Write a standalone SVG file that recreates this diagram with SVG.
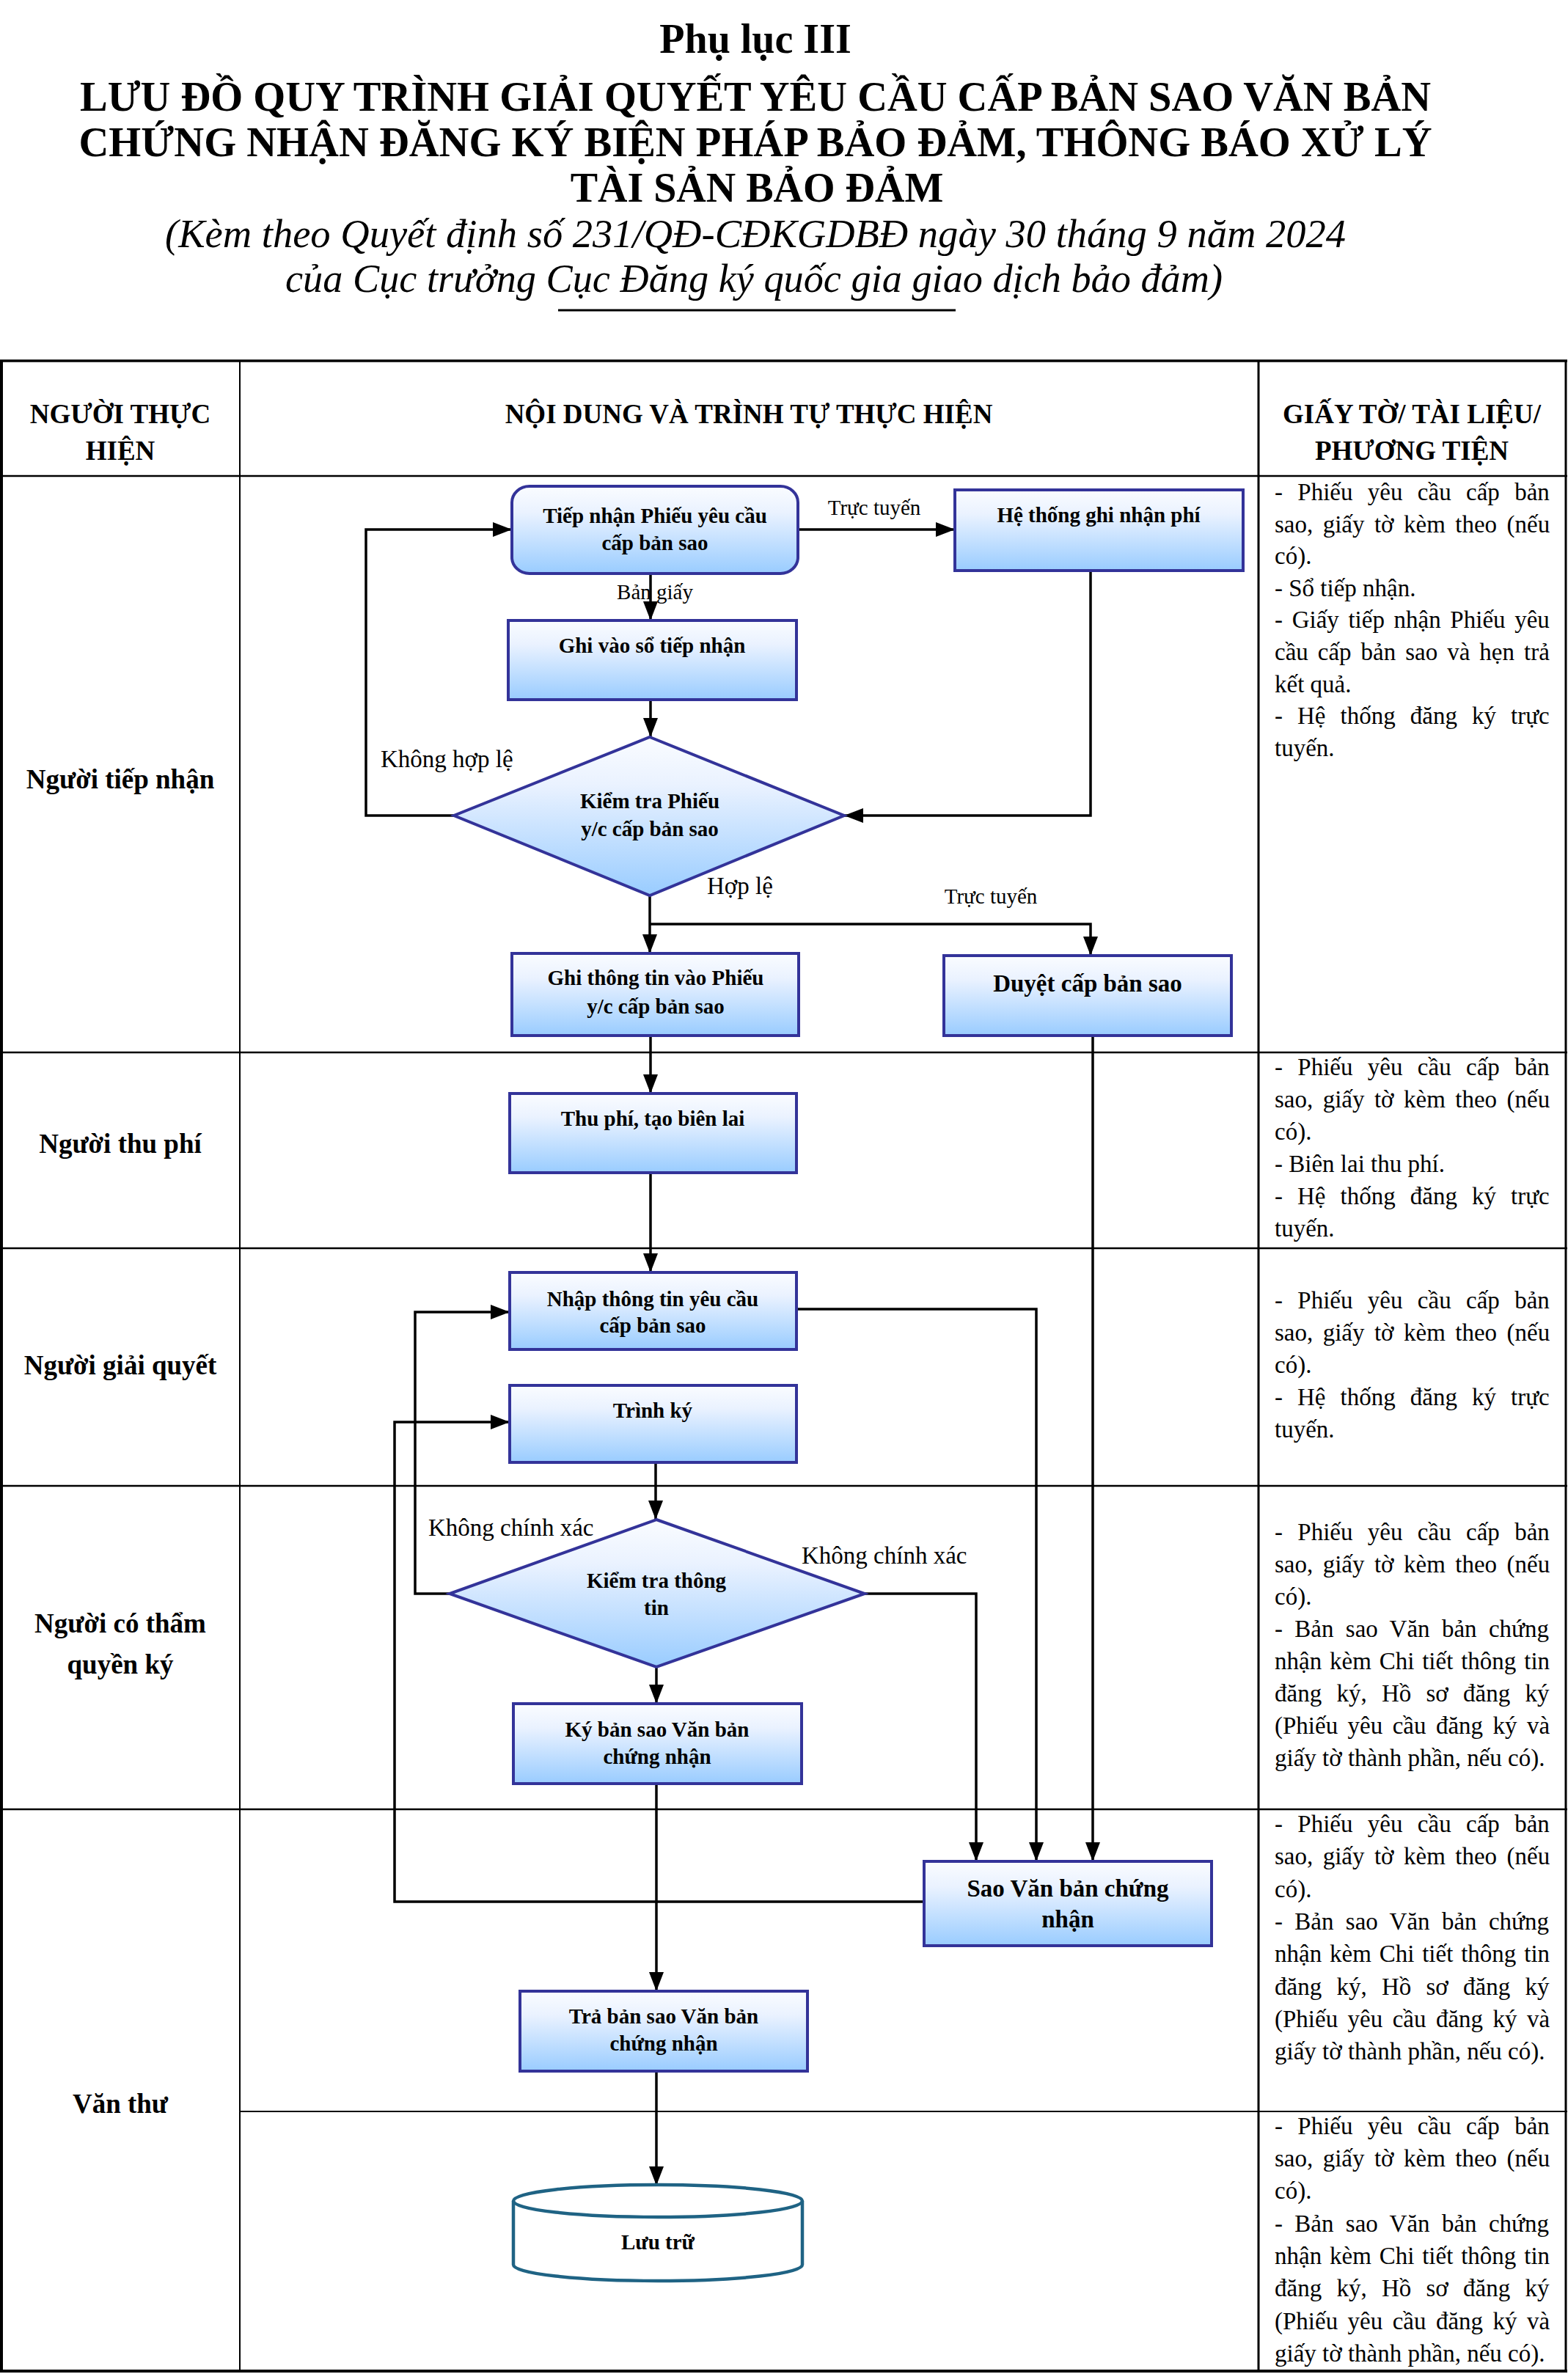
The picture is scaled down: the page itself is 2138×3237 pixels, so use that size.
<svg xmlns="http://www.w3.org/2000/svg" width="2138" height="3237" viewBox="0 0 2138 3237">
<style>
text{font-family:"Liberation Serif","Times New Roman",serif;fill:#000}
.t{font-size:56px;font-weight:bold;text-anchor:middle}
.s{font-size:55px;font-style:italic;text-anchor:middle}
.h{font-size:37px;font-weight:bold;text-anchor:middle}
.ln{font-size:37px;font-weight:bold;text-anchor:middle}
.nt{font-size:29px;font-weight:bold;text-anchor:middle}
.nt2{font-size:33px;font-weight:bold;text-anchor:middle}
.lb{font-size:33px}
.ls{font-size:29px}
.rc{font-size:33px}
.node{fill:url(#gr);stroke:#333399;stroke-width:4}
.conn{fill:none;stroke:#000;stroke-width:3.5;marker-end:url(#ar)}
.seg{fill:none;stroke:#000;stroke-width:3.5}
.g{stroke:#000;fill:none}
</style>
<defs>
<linearGradient id="gr" x1="0" y1="0" x2="0" y2="1">
<stop offset="0" stop-color="#fafcff"/>
<stop offset="0.3" stop-color="#eaf2ff"/>
<stop offset="1" stop-color="#99ccff"/>
</linearGradient>
<marker id="ar" markerUnits="userSpaceOnUse" markerWidth="26" markerHeight="20" refX="26" refY="10" orient="auto">
<path d="M0,0 L26,10 L0,20 Z" fill="#000"/>
</marker>
</defs>
<rect width="2138" height="3237" fill="#fff"/>

<g id="title">
<text class="t" x="1030" y="72">Phụ lục III</text>
<text class="t" x="1030" y="151" textLength="1842" lengthAdjust="spacingAndGlyphs">LƯU ĐỒ QUY TRÌNH GIẢI QUYẾT YÊU CẦU CẤP BẢN SAO VĂN BẢN</text>
<text class="t" x="1030" y="213" textLength="1845" lengthAdjust="spacingAndGlyphs">CHỨNG NHẬN ĐĂNG KÝ BIỆN PHÁP BẢO ĐẢM, THÔNG BÁO XỬ LÝ</text>
<text class="t" x="1032" y="275">TÀI SẢN BẢO ĐẢM</text>
<text class="s" x="1030" y="337" textLength="1610" lengthAdjust="spacingAndGlyphs">(Kèm theo Quyết định số 231/QĐ-CĐKGDBĐ ngày 30 tháng 9 năm 2024</text>
<text class="s" x="1028" y="398" textLength="1278" lengthAdjust="spacingAndGlyphs">của Cục trưởng Cục Đăng ký quốc gia giao dịch bảo đảm)</text>
<line x1="761" y1="423" x2="1303" y2="423" stroke="#000" stroke-width="3"/>
</g>

<g id="table">
<line class="g" x1="0" y1="492" x2="2137" y2="492" stroke-width="3.5"/>
<line class="g" x1="0" y1="649" x2="2137" y2="649" stroke-width="2.5"/>
<line class="g" x1="0" y1="1435" x2="2137" y2="1435" stroke-width="2.5"/>
<line class="g" x1="0" y1="1702" x2="2137" y2="1702" stroke-width="2.5"/>
<line class="g" x1="0" y1="2026" x2="2137" y2="2026" stroke-width="2.5"/>
<line class="g" x1="0" y1="2467" x2="2137" y2="2467" stroke-width="2.5"/>
<line class="g" x1="327" y1="2879" x2="2137" y2="2879" stroke-width="2"/>
<line class="g" x1="0" y1="3233" x2="2137" y2="3233" stroke-width="4"/>
<line class="g" x1="2" y1="491" x2="2" y2="3235" stroke-width="4"/>
<line class="g" x1="327" y1="491" x2="327" y2="3235" stroke-width="2"/>
<line class="g" x1="1716" y1="491" x2="1716" y2="3235" stroke-width="3"/>
<line class="g" x1="2135" y1="491" x2="2135" y2="3235" stroke-width="3"/>
<text class="h" x="164" y="577">NGƯỜI THỰC</text>
<text class="h" x="164" y="627">HIỆN</text>
<text class="h" x="1021" y="577">NỘI DUNG VÀ TRÌNH TỰ THỰC HIỆN</text>
<text class="h" x="1925" y="577">GIẤY TỜ/ TÀI LIỆU/</text>
<text class="h" x="1925" y="627">PHƯƠNG TIỆN</text>
</g>

<g id="lanes">
<text class="ln" x="164" y="1075">Người tiếp nhận</text>
<text class="ln" x="164" y="1572">Người thu phí</text>
<text class="ln" x="164" y="1874">Người giải quyết</text>
<text class="ln" x="164" y="2226">Người có thẩm</text>
<text class="ln" x="164" y="2282">quyền ký</text>
<text class="ln" x="164" y="2881">Văn thư</text>
</g>

<g id="documents" class="rc">
<text class="rc" x="1738" y="682" style="word-spacing:12.1px">- Phiếu yêu cầu cấp bản</text>
<text class="rc" x="1738" y="726" style="word-spacing:5.2px">sao, giấy tờ kèm theo (nếu</text>
<text class="rc" x="1738" y="769">có).</text>
<text class="rc" x="1738" y="813">- Sổ tiếp nhận.</text>
<text class="rc" x="1738" y="856" style="word-spacing:4.4px">- Giấy tiếp nhận Phiếu yêu</text>
<text class="rc" x="1738" y="900" style="word-spacing:4.75px">cầu cấp bản sao và hẹn trả</text>
<text class="rc" x="1738" y="944">kết quả.</text>
<text class="rc" x="1738" y="987" style="word-spacing:11.8px">- Hệ thống đăng ký trực</text>
<text class="rc" x="1738" y="1031">tuyến.</text>

<text class="rc" x="1738" y="1466" style="word-spacing:12.1px">- Phiếu yêu cầu cấp bản</text>
<text class="rc" x="1738" y="1510" style="word-spacing:5.2px">sao, giấy tờ kèm theo (nếu</text>
<text class="rc" x="1738" y="1554">có).</text>
<text class="rc" x="1738" y="1598">- Biên lai thu phí.</text>
<text class="rc" x="1738" y="1642" style="word-spacing:11.8px">- Hệ thống đăng ký trực</text>
<text class="rc" x="1738" y="1686">tuyến.</text>

<text class="rc" x="1738" y="1784" style="word-spacing:12.1px">- Phiếu yêu cầu cấp bản</text>
<text class="rc" x="1738" y="1828" style="word-spacing:5.2px">sao, giấy tờ kèm theo (nếu</text>
<text class="rc" x="1738" y="1872">có).</text>
<text class="rc" x="1738" y="1916" style="word-spacing:11.8px">- Hệ thống đăng ký trực</text>
<text class="rc" x="1738" y="1960">tuyến.</text>

<text class="rc" x="1738" y="2100" style="word-spacing:12.1px">- Phiếu yêu cầu cấp bản</text>
<text class="rc" x="1738" y="2144" style="word-spacing:5.2px">sao, giấy tờ kèm theo (nếu</text>
<text class="rc" x="1738" y="2188">có).</text>
<text class="rc" x="1738" y="2232" style="word-spacing:8.1px">- Bản sao Văn bản chứng</text>
<text class="rc" x="1738" y="2276" style="word-spacing:2.6px">nhận kèm Chi tiết thông tin</text>
<text class="rc" x="1738" y="2320" style="word-spacing:12px">đăng ký, Hồ sơ đăng ký</text>
<text class="rc" x="1738" y="2364" style="word-spacing:5.2px">(Phiếu yêu cầu đăng ký và</text>
<text class="rc" x="1738" y="2408">giấy tờ thành phần, nếu có).</text>

<text class="rc" x="1738" y="2498" style="word-spacing:12.1px">- Phiếu yêu cầu cấp bản</text>
<text class="rc" x="1738" y="2542" style="word-spacing:5.2px">sao, giấy tờ kèm theo (nếu</text>
<text class="rc" x="1738" y="2587">có).</text>
<text class="rc" x="1738" y="2631" style="word-spacing:8.1px">- Bản sao Văn bản chứng</text>
<text class="rc" x="1738" y="2675" style="word-spacing:2.6px">nhận kèm Chi tiết thông tin</text>
<text class="rc" x="1738" y="2720" style="word-spacing:12px">đăng ký, Hồ sơ đăng ký</text>
<text class="rc" x="1738" y="2764" style="word-spacing:5.2px">(Phiếu yêu cầu đăng ký và</text>
<text class="rc" x="1738" y="2808">giấy tờ thành phần, nếu có).</text>

<text class="rc" x="1738" y="2910" style="word-spacing:12.1px">- Phiếu yêu cầu cấp bản</text>
<text class="rc" x="1738" y="2954" style="word-spacing:5.2px">sao, giấy tờ kèm theo (nếu</text>
<text class="rc" x="1738" y="2998">có).</text>
<text class="rc" x="1738" y="3043" style="word-spacing:8.1px">- Bản sao Văn bản chứng</text>
<text class="rc" x="1738" y="3087" style="word-spacing:2.6px">nhận kèm Chi tiết thông tin</text>
<text class="rc" x="1738" y="3131" style="word-spacing:12px">đăng ký, Hồ sơ đăng ký</text>
<text class="rc" x="1738" y="3176" style="word-spacing:5.2px">(Phiếu yêu cầu đăng ký và</text>
<text class="rc" x="1738" y="3220">giấy tờ thành phần, nếu có).</text>
</g>

<g id="connectors">
<path class="conn" d="M1088,722 H1302"/>
<path class="conn" d="M887,782 V846"/>
<path class="conn" d="M887,954 V1005"/>
<path class="conn" d="M619,1112 H499 V722 H698"/>
<path class="conn" d="M1487,778 V1112 H1151"/>
<path class="conn" d="M886,1221 V1300"/>
<path class="conn" d="M886,1260 H1487 V1303"/>
<path class="conn" d="M887,1412 V1491"/>
<path class="conn" d="M1490,1412 V2538"/>
<path class="conn" d="M887,1599 V1735"/>
<path class="conn" d="M1086,1785 H1413 V2538"/>
<path class="conn" d="M894,1994 V2072"/>
<path class="conn" d="M613,2173 H566 V1789 H695"/>
<path class="conn" d="M1179,2173 H1331 V2538"/>
<path class="conn" d="M895,2273 V2323"/>
<path class="conn" d="M895,2432 V2715"/>
<path class="conn" d="M1260,2593 H538 V1939 H695"/>
<path class="conn" d="M895,2824 V2980"/>
<text class="lb" x="1192" y="702" style="font-size:29px" text-anchor="middle">Trực tuyến</text>
<text class="ls" x="893" y="817" text-anchor="middle">Bản giấy</text>
<text class="lb" x="519" y="1046">Không hợp lệ</text>
<text class="lb" x="964" y="1219">Hợp lệ</text>
<text class="ls" x="1351" y="1232" text-anchor="middle">Trực tuyến</text>
<text class="lb" x="584" y="2094">Không chính xác</text>
<text class="lb" x="1093" y="2132">Không chính xác</text>
</g>

<g id="n1">
<rect class="node" x="698" y="663" width="390" height="119" rx="24" ry="22"/>
<text class="nt" x="893" y="713">Tiếp nhận Phiếu yêu cầu</text>
<text class="nt" x="893" y="750">cấp bản sao</text>
</g>
<g id="n2">
<rect class="node" x="1302" y="668" width="393" height="110"/>
<text class="nt" x="1498" y="712">Hệ thống ghi nhận phí</text>
</g>
<g id="n3">
<rect class="node" x="693" y="846" width="393" height="108"/>
<text class="nt" x="889" y="890">Ghi vào sổ tiếp nhận</text>
</g>
<g id="n4">
<polygon class="node" points="886,1005 1151,1112 886,1221 619,1112"/>
<text class="nt" x="886" y="1102">Kiểm tra Phiếu</text>
<text class="nt" x="886" y="1140">y/c cấp bản sao</text>
</g>
<g id="n5">
<rect class="node" x="698" y="1300" width="391" height="112"/>
<text class="nt" x="894" y="1343">Ghi thông tin vào Phiếu</text>
<text class="nt" x="894" y="1382">y/c cấp bản sao</text>
</g>
<g id="n6">
<rect class="node" x="1287" y="1303" width="392" height="109"/>
<text class="nt2" x="1483" y="1352">Duyệt cấp bản sao</text>
</g>
<g id="n7">
<rect class="node" x="695" y="1491" width="391" height="108"/>
<text class="nt" x="890" y="1535">Thu phí, tạo biên lai</text>
</g>
<g id="n8">
<rect class="node" x="695" y="1735" width="391" height="105"/>
<text class="nt" x="890" y="1781">Nhập thông tin yêu cầu</text>
<text class="nt" x="890" y="1817">cấp bản sao</text>
</g>
<g id="n9">
<rect class="node" x="695" y="1889" width="391" height="105"/>
<text class="nt" x="890" y="1933">Trình ký</text>
</g>
<g id="n10">
<polygon class="node" points="895,2072 1179,2173 895,2273 613,2173"/>
<text class="nt" x="895" y="2165">Kiểm tra thông</text>
<text class="nt" x="895" y="2202">tin</text>
</g>
<g id="n11">
<rect class="node" x="700" y="2323" width="393" height="109"/>
<text class="nt" x="896" y="2368">Ký bản sao Văn bản</text>
<text class="nt" x="896" y="2405">chứng nhận</text>
</g>
<g id="n12">
<rect class="node" x="1260" y="2538" width="392" height="115"/>
<text class="nt2" x="1456" y="2586">Sao Văn bản chứng</text>
<text class="nt2" x="1456" y="2628">nhận</text>
</g>
<g id="n13">
<rect class="node" x="709" y="2715" width="392" height="109"/>
<text class="nt" x="905" y="2759">Trả bản sao Văn bản</text>
<text class="nt" x="905" y="2796">chứng nhận</text>
</g>
<g id="n14">
<path d="M700,3001 A197,22 0 0 1 1094,3001 V3088 A197,22 0 0 1 700,3088 Z" fill="#fff" stroke="#1f6384" stroke-width="4.5"/>
<path d="M700,3001 A197,22 0 0 0 1094,3001" fill="none" stroke="#1f6384" stroke-width="4.5"/>
<text class="nt" x="897" y="3067">Lưu trữ</text>
</g>
</svg>
